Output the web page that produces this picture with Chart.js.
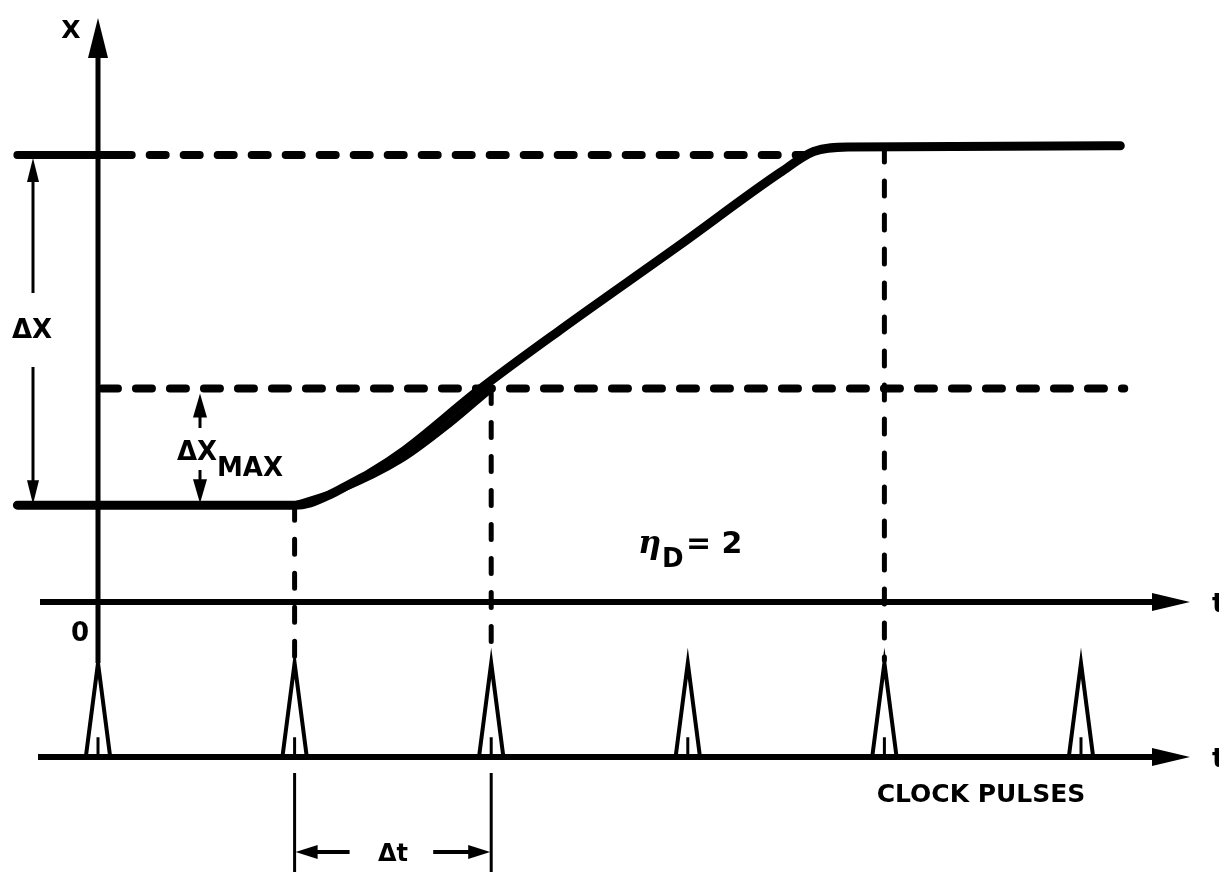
<!DOCTYPE html>
<html>
<head>
<meta charset="utf-8">
<title>Delta X response to clock pulses</title>
<script src="https://cdn.jsdelivr.net/npm/chart.js@4.4.1/dist/chart.umd.min.js"></script>
<style>
  html, body { margin: 0; padding: 0; background: #fff; }
  #wrap { position: relative; width: 1219px; height: 872px; }
</style>
</head>
<body>
<div id="wrap"><canvas id="chart"></canvas></div>
<script>
// time in clock periods (Δt), X in units of ΔX_MAX, zero on the t axis
const pulseTimes = [0, 1, 2, 3, 4, 5];
const pulseHeights = [1, 1, 1, 1, 1, 1];

const responseT = [-0.41, 1.0, 1.08, 1.18, 1.28, 1.38, 1.56, 1.94, 2.35, 2.96, 3.47, 3.64, 3.82, 5.2];
const responseX = [0.83, 0.83, 0.85, 0.92, 1.01, 1.10, 1.30, 1.82, 2.33, 3.06, 3.68, 3.86, 3.90, 3.91];

// second trace that ends on the ΔX_MAX level at the second pulse
const sampledT = [1.0, 1.23, 1.54, 1.79, 1.98];
const sampledX = [0.83, 0.96, 1.22, 1.53, 1.80];

const startLevel = 0.83;
const deltaXMax = 1.0;
const deltaX = 3.0;
const markTimes = [1, 2, 4];   // dashed verticals
const markTops = [0.83, 1.83, 3.90];

const pts = (ts, xs) => ts.map((t, i) => ({ x: t, y: xs[i] }));

// triangles + small inner tick for each pulse
let pulsePts = [];
let tickPts = [];
pulseTimes.forEach((t, i) => {
  pulsePts.push({ x: t - 0.062, y: 0 }, { x: t, y: pulseHeights[i] }, { x: t + 0.062, y: 0 }, { x: t, y: null });
  tickPts.push({ x: t, y: 0 }, { x: t, y: 0.21 * pulseHeights[i] }, { x: t, y: null });
});

let vertPts = [];
markTimes.forEach((t, i) => {
  vertPts.push({ x: t, y: markTops[i] }, { x: t, y: -0.5 }, { x: t, y: null });
});

const black = '#000';
const FONT = '"DejaVu Sans"';

function seg(ctx, x1, y1, x2, y2, w) {
  ctx.lineWidth = w;
  ctx.beginPath();
  ctx.moveTo(x1, y1);
  ctx.lineTo(x2, y2);
  ctx.stroke();
}

function head(ctx, tx, ty, dx, dy, len, half) {
  const bx = tx - dx * len, by = ty - dy * len;
  ctx.beginPath();
  ctx.moveTo(tx, ty);
  ctx.lineTo(bx - dy * half, by + dx * half);
  ctx.lineTo(bx + dy * half, by - dx * half);
  ctx.closePath();
  ctx.fill();
}

function txt(ctx, s, px, py, font, align) {
  ctx.font = font;
  ctx.textAlign = align || 'left';
  ctx.textBaseline = 'alphabetic';
  ctx.fillText(s, px, py);
}

const annotate = {
  id: 'annotate',
  beforeDatasetsDraw(chart) {
    const { ctx, scales: { x, y, yp } } = chart;
    ctx.save();
    ctx.strokeStyle = black;
    ctx.fillStyle = black;
    ctx.lineCap = 'butt';

    const x0 = x.getPixelForValue(0);
    const yT = y.getPixelForValue(0);
    const yC = yp.getPixelForValue(0);

    // X axis
    seg(ctx, x0, yp.getPixelForValue(1), x0, 52, 5);
    head(ctx, x0, 18, 0, -1, 40, 10);
    // t axis
    seg(ctx, 40, yT, 1160, yT, 6);
    head(ctx, 1190, yT, 1, 0, 38, 9);
    // clock pulse axis
    seg(ctx, 38, yC, 1160, yC, 6);
    head(ctx, 1190, yC, 1, 0, 38, 9);
    ctx.restore();
  },
  afterDatasetsDraw(chart) {
    const { ctx, scales: { x, y } } = chart;
    ctx.save();
    ctx.strokeStyle = black;
    ctx.fillStyle = black;

    // ΔX dimension arrow
    const xa = 33;
    const yTop = y.getPixelForValue(startLevel + deltaX) + 3;
    const yBot = y.getPixelForValue(startLevel);
    seg(ctx, xa, yTop + 20, xa, 293, 3);
    seg(ctx, xa, 367, xa, yBot - 20, 3);
    head(ctx, xa, yTop, 0, -1, 24, 6);
    head(ctx, xa, yBot - 1, 0, 1, 24, 6);
    txt(ctx, 'ΔX', 32, 338, 'bold 26px ' + FONT, 'center');

    // ΔX_MAX dimension arrows
    const xm = 200;
    const yMax = y.getPixelForValue(startLevel + deltaXMax) + 5;
    seg(ctx, xm, yMax + 18, xm, 428, 3);
    head(ctx, xm, yMax, 0, -1, 24, 7);
    seg(ctx, xm, 470, xm, yBot - 18, 3);
    head(ctx, xm, yBot - 2, 0, 1, 24, 7);
    txt(ctx, 'ΔX', 177, 460, 'bold 26px ' + FONT);
    txt(ctx, 'MAX', 217, 476, 'bold 26px ' + FONT);

    // Δt between the first two pulses after start
    const p1 = x.getPixelForValue(1), p2 = x.getPixelForValue(2);
    seg(ctx, p1, 773, p1, 872, 3);
    seg(ctx, p2, 773, p2, 872, 3);
    const yd = 852;
    seg(ctx, p1 + 15, yd, p1 + 55, yd, 4);
    head(ctx, p1 + 1, yd, -1, 0, 22, 7);
    seg(ctx, p2 - 58, yd, p2 - 15, yd, 4);
    head(ctx, p2 - 1, yd, 1, 0, 22, 7);
    txt(ctx, 'Δt', (p1 + p2) / 2, 861, 'bold 24px ' + FONT, 'center');

    // labels
    txt(ctx, 'X', 71, 38, 'bold 25px ' + FONT, 'center');
    txt(ctx, '0', 80, 641, 'bold 26px ' + FONT, 'center');
    txt(ctx, 'η', 638, 553, 'italic bold 32px "DejaVu Serif"');
    txt(ctx, 'D', 662, 567, 'bold 26px ' + FONT);
    txt(ctx, '= 2', 686, 553, 'bold 30px ' + FONT);
    txt(ctx, 'CLOCK PULSES', 981, 802, 'bold 25px ' + FONT, 'center');
    txt(ctx, 't', 1212, 612, 'bold 26px ' + FONT);
    txt(ctx, 't', 1212, 767, 'bold 26px ' + FONT);
    ctx.restore();
  }
};

const line = (data, width, extra) => Object.assign({
  data: data,
  showLine: true,
  borderColor: black,
  backgroundColor: black,
  borderWidth: width,
  pointRadius: 0,
  fill: false,
  spanGaps: false,
  borderCapStyle: 'round',
  borderJoinStyle: 'round'
}, extra || {});

const levelTop = startLevel + deltaX;
const levelMax = startLevel + deltaXMax;

new Chart(document.getElementById('chart'), {
  type: 'scatter',
  data: {
    datasets: [
      line(pts(responseT, responseX), 9, { cubicInterpolationMode: 'monotone' }),
      line(pts(sampledT, sampledX), 7, { cubicInterpolationMode: 'monotone' }),
      line([{ x: -0.41, y: levelTop }, { x: 0.09, y: levelTop }], 8),
      line([{ x: 0.09, y: levelTop }, { x: 3.6, y: levelTop }], 8, { borderDash: [16, 18] }),
      line([{ x: 0.02, y: levelMax }, { x: 5.22, y: levelMax }], 8, { borderDash: [16, 18] }),
      line(vertPts, 5, { borderDash: [15, 19] }),
      line(pulsePts, 4, { yAxisID: 'yp', borderJoinStyle: 'miter', borderCapStyle: 'butt' }),
      line(tickPts, 3, { yAxisID: 'yp', borderCapStyle: 'butt' })
    ]
  },
  options: {
    responsive: true,
    maintainAspectRatio: false,
    animation: false,
    layout: { padding: 0 },
    plugins: { legend: { display: false }, tooltip: { enabled: false } },
    scales: {
      x: { type: 'linear', min: -0.4985, max: 5.702, display: false },
      y: { type: 'linear', min: -2.314, max: 5.159, display: false },
      yp: { type: 'linear', position: 'right', min: -1.223, max: 8.053, display: false }
    }
  },
  plugins: [annotate]
});
</script>
</body>
</html>
